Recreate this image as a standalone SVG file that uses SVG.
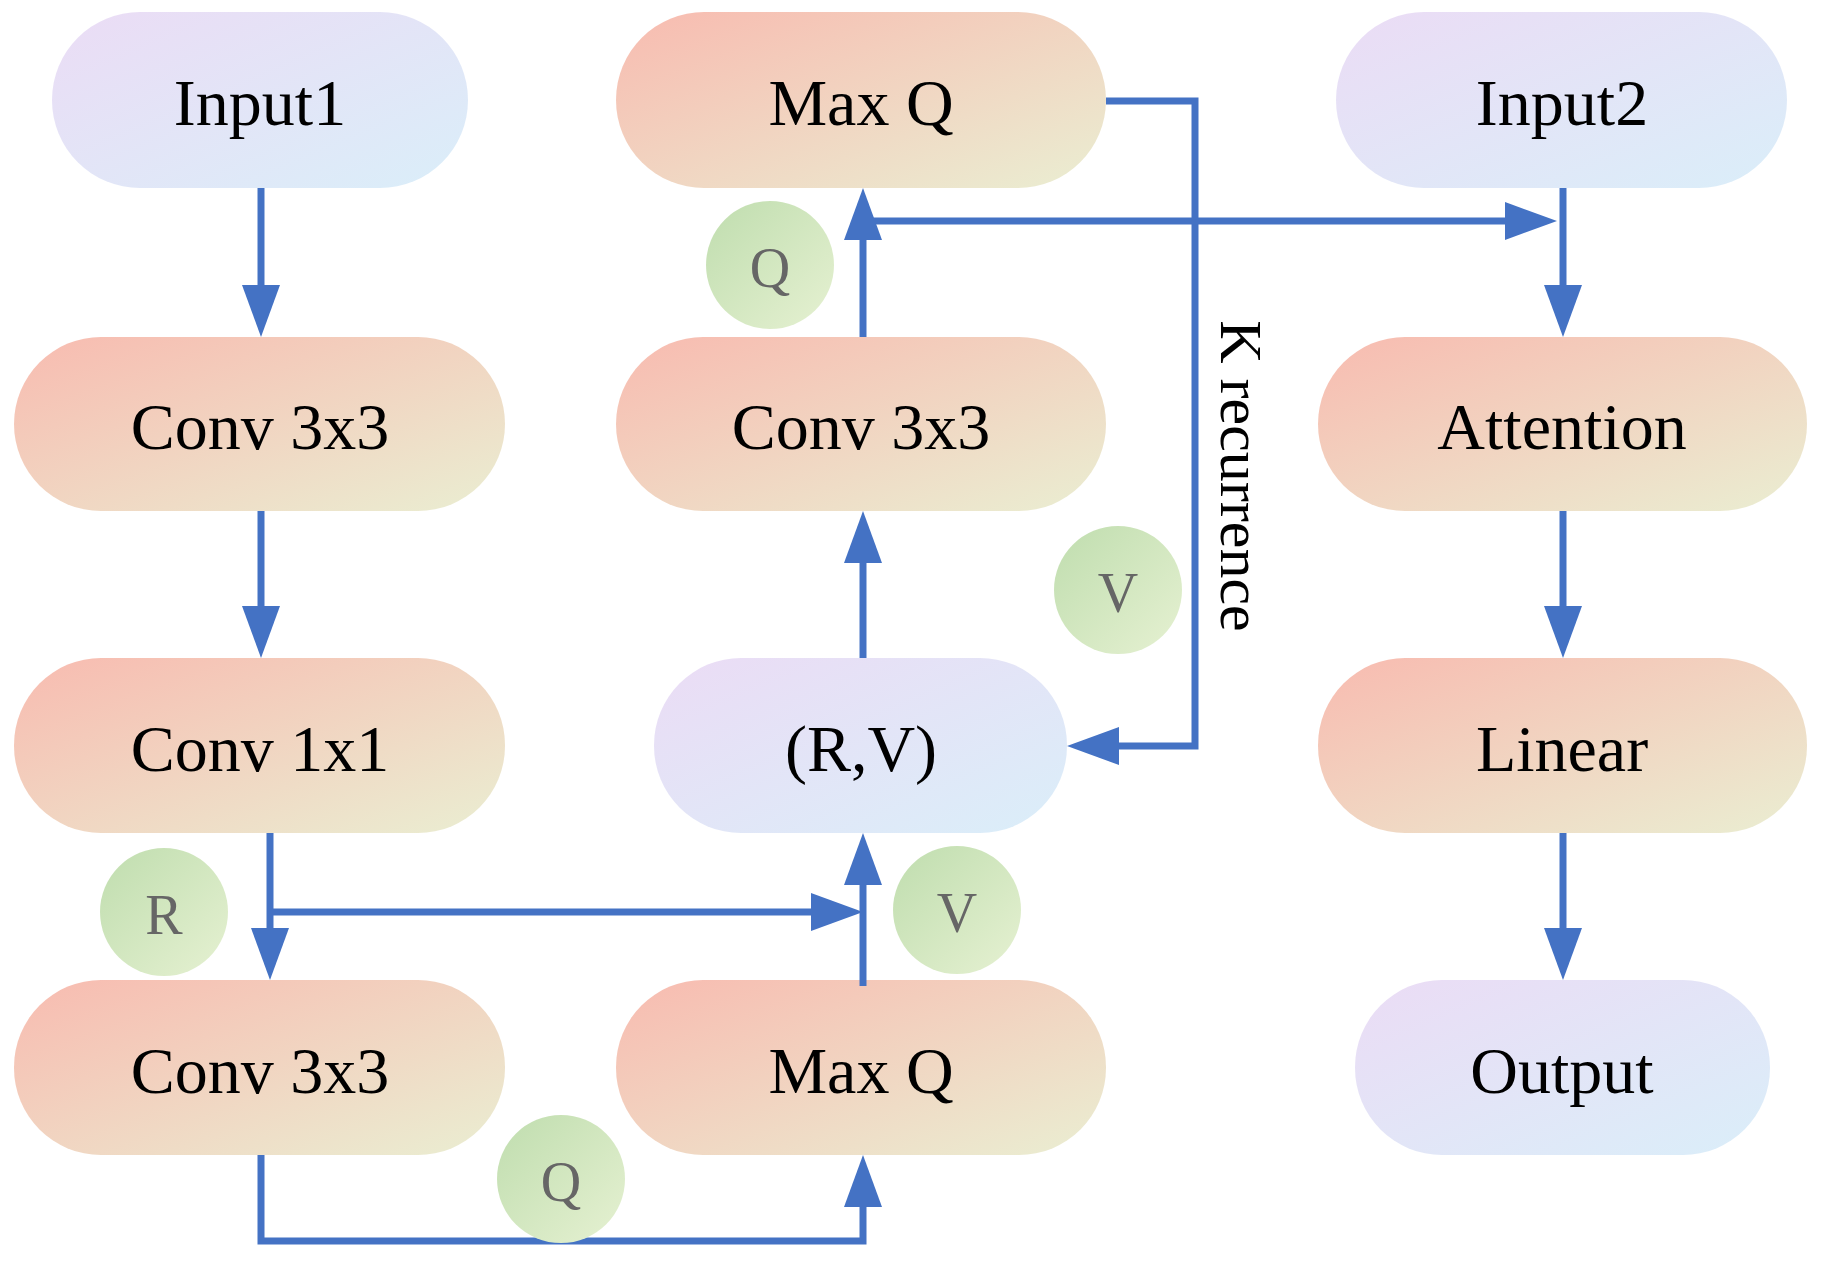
<svg xmlns="http://www.w3.org/2000/svg" width="1822" height="1261" viewBox="0 0 1822 1261">
<defs>
<linearGradient id="gw" x1="0" y1="0" x2="1" y2="1"><stop offset="0" stop-color="#F8BBB0"/><stop offset="1" stop-color="#EAEED2"/></linearGradient>
<linearGradient id="gc" x1="0" y1="0" x2="1" y2="1"><stop offset="0" stop-color="#EBDCF5"/><stop offset="1" stop-color="#DAEEF9"/></linearGradient>
<linearGradient id="gg" x1="0" y1="0" x2="1" y2="1"><stop offset="0" stop-color="#BFDDAE"/><stop offset="1" stop-color="#E6F1D2"/></linearGradient>
<marker id="ah" markerUnits="userSpaceOnUse" markerWidth="52" markerHeight="38" refX="22" refY="19" orient="auto"><path d="M0,0 L52,19 L0,38 z" fill="#4472C4"/></marker>
<style>
.w{fill:url(#gw)} .c{fill:url(#gc)}
.t{font-family:"Liberation Serif",serif;font-size:66px;fill:#000;text-anchor:middle;dominant-baseline:central}
.g{fill:url(#gg)} .gt{font-family:"Liberation Serif",serif;font-size:56px;fill:#666;text-anchor:middle;dominant-baseline:central}
.l{fill:none;stroke:#4472C4;stroke-width:7}
</style>
</defs>
<g id="input1"><rect class="c" x="52" y="12" width="416" height="176" rx="88"/><text class="t" x="260" y="102">Input1</text></g>
<g id="conv1"><rect class="w" x="14" y="337" width="491" height="174" rx="87"/><text class="t" x="260" y="426">Conv 3x3</text></g>
<g id="conv2"><rect class="w" x="14" y="658" width="491" height="175" rx="87"/><text class="t" x="260" y="748">Conv 1x1</text></g>
<g id="conv3"><rect class="w" x="14" y="980" width="491" height="175" rx="87"/><text class="t" x="260" y="1070">Conv 3x3</text></g>
<g id="maxq1"><rect class="w" x="616" y="12" width="490" height="176" rx="88"/><text class="t" x="861" y="102">Max Q</text></g>
<g id="conv4"><rect class="w" x="616" y="337" width="490" height="174" rx="87"/><text class="t" x="861" y="426">Conv 3x3</text></g>
<g id="rv"><rect class="c" x="654" y="658" width="413" height="175" rx="87"/><text class="t" x="861" y="748">(R,V)</text></g>
<g id="maxq2"><rect class="w" x="616" y="980" width="490" height="175" rx="87"/><text class="t" x="861" y="1070">Max Q</text></g>
<g id="input2"><rect class="c" x="1336" y="12" width="451" height="176" rx="88"/><text class="t" x="1562" y="102">Input2</text></g>
<g id="attention"><rect class="w" x="1318" y="337" width="489" height="174" rx="87"/><text class="t" x="1562" y="426">Attention</text></g>
<g id="linear"><rect class="w" x="1318" y="658" width="489" height="175" rx="87"/><text class="t" x="1562" y="748">Linear</text></g>
<g id="output"><rect class="c" x="1355" y="980" width="415" height="175" rx="87"/><text class="t" x="1562" y="1070">Output</text></g>
<g id="connectors">
<line class="l" x1="261" y1="188" x2="261" y2="307" marker-end="url(#ah)"/>
<line class="l" x1="261" y1="511" x2="261" y2="628" marker-end="url(#ah)"/>
<line class="l" x1="270" y1="833" x2="270" y2="950" marker-end="url(#ah)"/>
<line class="l" x1="270" y1="912" x2="833" y2="912" marker-end="url(#ah)"/>
<line class="l" x1="863" y1="986" x2="863" y2="863" marker-end="url(#ah)"/>
<polyline class="l" points="261,1155 261,1241 863,1241 863,1185" marker-end="url(#ah)"/>
<line class="l" x1="863" y1="658" x2="863" y2="541" marker-end="url(#ah)"/>
<line class="l" x1="863" y1="337" x2="863" y2="218" marker-end="url(#ah)"/>
<line class="l" x1="863" y1="221" x2="1527" y2="221" marker-end="url(#ah)"/>
<line class="l" x1="1563" y1="188" x2="1563" y2="307" marker-end="url(#ah)"/>
<polyline class="l" points="1106,101 1195,101 1195,746 1097,746" marker-end="url(#ah)"/>
<line class="l" x1="1563" y1="511" x2="1563" y2="628" marker-end="url(#ah)"/>
<line class="l" x1="1563" y1="833" x2="1563" y2="950" marker-end="url(#ah)"/>
</g>
<text x="1241" y="476" transform="rotate(90 1241 476)" class="t" style="font-size:60px">K recurrence</text>
<g id="q1"><circle class="g" cx="770" cy="265" r="64"/><text class="gt" x="770" y="268">Q</text></g>
<g id="v1"><circle class="g" cx="1118" cy="590" r="64"/><text class="gt" x="1118" y="593">V</text></g>
<g id="r1"><circle class="g" cx="164" cy="912" r="64"/><text class="gt" x="164" y="915">R</text></g>
<g id="v2"><circle class="g" cx="957" cy="910" r="64"/><text class="gt" x="957" y="913">V</text></g>
<g id="q2"><circle class="g" cx="561" cy="1179" r="64"/><text class="gt" x="561" y="1182">Q</text></g>
</svg>
